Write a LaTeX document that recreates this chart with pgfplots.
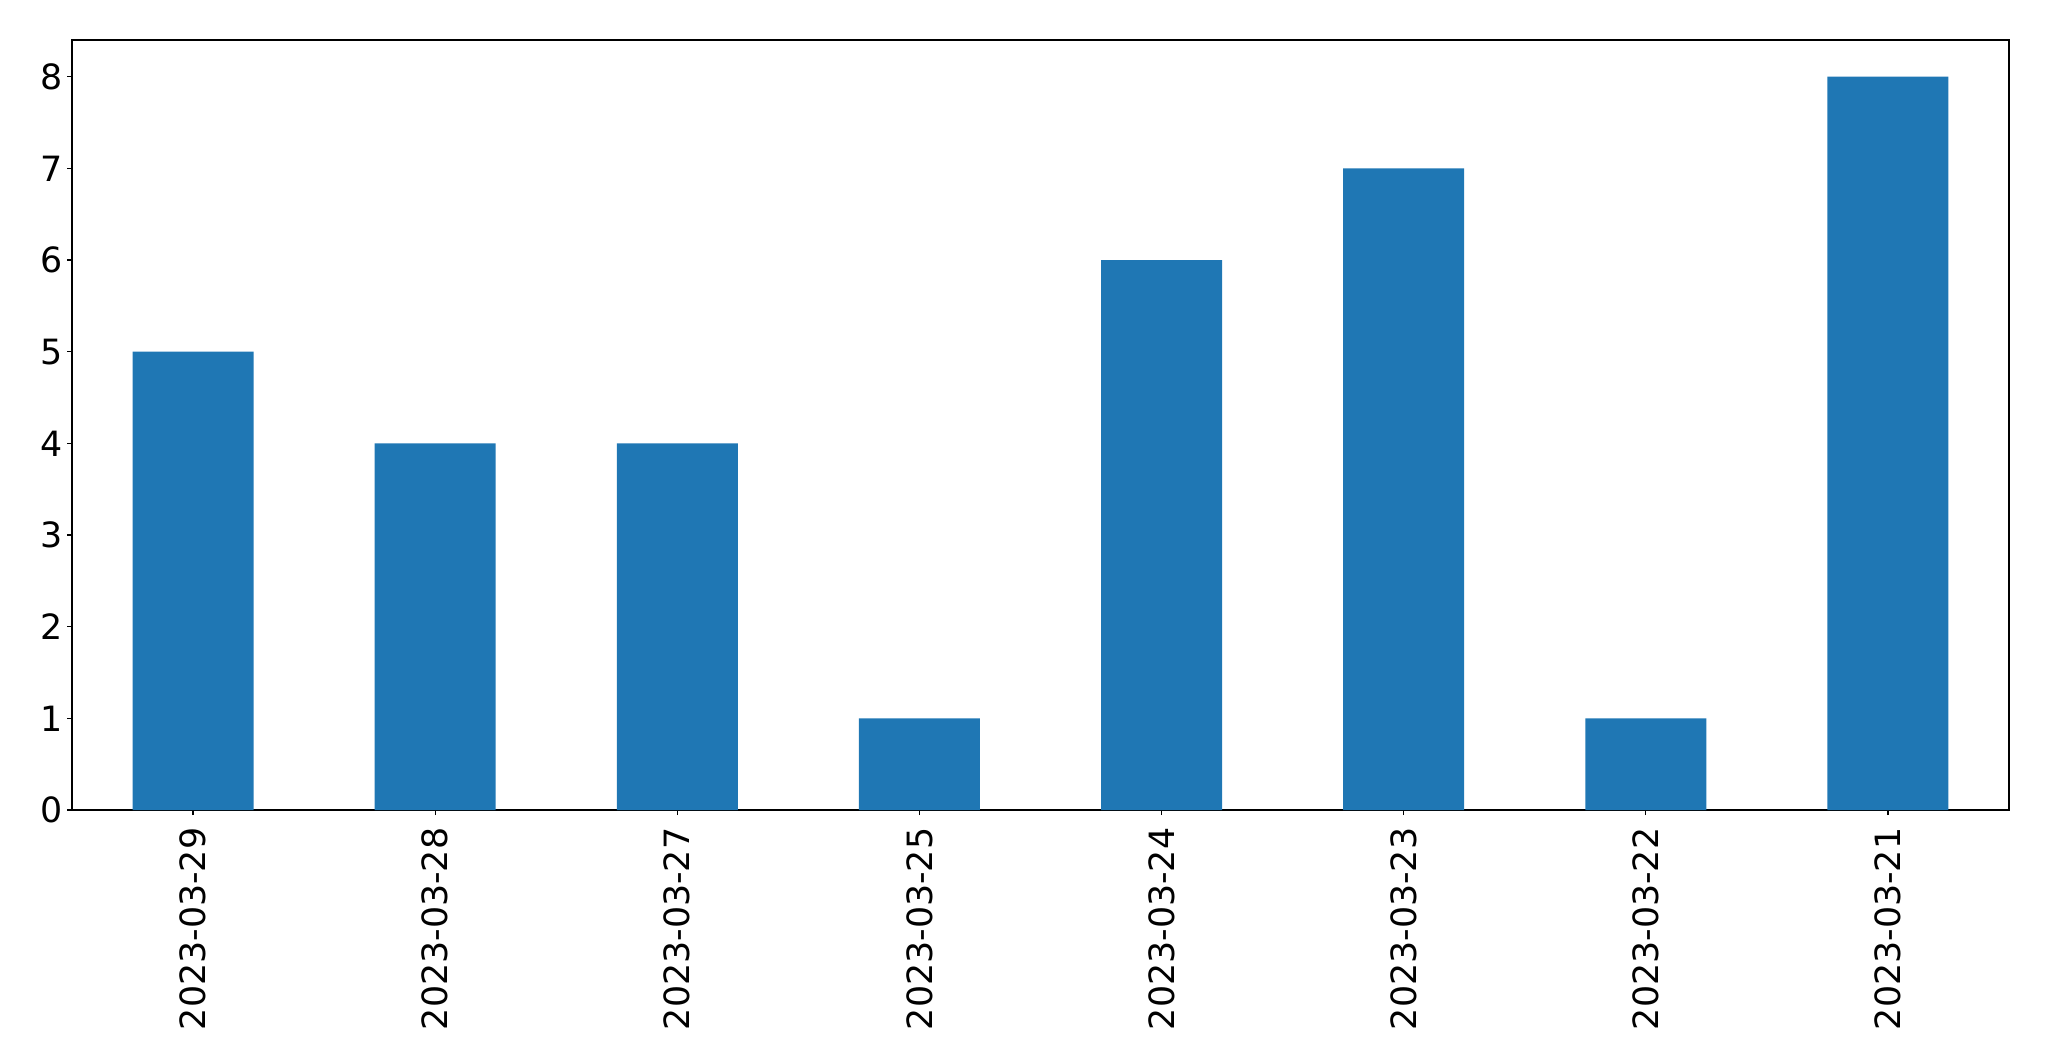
\documentclass[border=0pt]{standalone}
\usepackage{pgfplots}
\pgfplotsset{compat=1.18}
\usepackage{fontspec}
\setmainfont{DejaVu Sans}
\definecolor{mplblue}{HTML}{1F77B4}
\begin{document}
\begin{tikzpicture}
\useasboundingbox (-18pt,-62.75pt) rectangle (494.25pt,202.5pt);
\begin{axis}[
  at={(0,0)}, anchor=south west,
  scale only axis,
  width=484.25pt, height=192.5pt,
  xmin=-0.5, xmax=7.5, ymin=0, ymax=8.4,
  xtick={0,1,2,3,4,5,6,7},
  xticklabels={2023-03-29,2023-03-28,2023-03-27,2023-03-25,2023-03-24,2023-03-23,2023-03-22,2023-03-21},
  x tick label style={rotate=90, anchor=east, inner sep=0pt},
  y tick label style={inner sep=0pt},
  xticklabel shift=3pt,
  yticklabel shift=1pt,
  ytick={0,1,2,3,4,5,6,7,8},
  tick align=outside, tick pos=left,
  major tick length=1.25pt,
  tick style={black, line width=0.3pt},
  axis line style={line width=0.3pt},
  ticklabel style={font=\fontsize{8.7pt}{10pt}\selectfont},
  /pgf/number format/assume math mode=true,
  ybar, bar width=0.5, bar shift=0pt,
]
\addplot[fill=mplblue, draw=none] coordinates {(0,5) (1,4) (2,4) (3,1) (4,6) (5,7) (6,1) (7,8)};
\end{axis}
\end{tikzpicture}
\end{document}
